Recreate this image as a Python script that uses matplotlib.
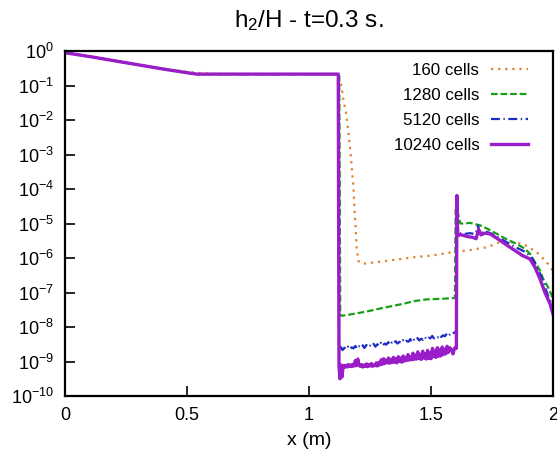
import numpy as np
import matplotlib
matplotlib.use('Agg')
import matplotlib.pyplot as plt

plt.rcParams['font.family'] = ['Liberation Sans', 'DejaVu Sans']
plt.rcParams['mathtext.fontset'] = 'custom'
plt.rcParams['mathtext.rm'] = 'Liberation Sans'
plt.rcParams['mathtext.it'] = 'Liberation Sans:italic'

# values, stored as log10(h2/H)
x_160 = [0, 0.1, 0.2, 0.3, 0.4, 0.5, 0.55, 0.6, 0.8, 1.0, 1.12, 1.134, 1.141,
         1.152, 1.161, 1.168, 1.175, 1.182, 1.186, 1.191, 1.195, 1.202, 1.216,
         1.3, 1.427, 1.5, 1.59, 1.65, 1.728, 1.783, 1.82, 1.878, 1.933, 1.974, 2.0]
ly_160 = [-0.05, -0.16, -0.28, -0.40, -0.52, -0.60, -0.635, -0.66, -0.67, -0.67,
          -0.68, -1.04, -1.42, -1.8, -2.35, -2.78, -3.36, -3.94, -4.53, -5.1,
          -5.69, -6.08, -6.17, -6.1, -5.98, -5.93, -5.83, -5.78, -5.69, -5.54,
          -5.54, -5.59, -5.83, -6.12, -6.37]

x_1280 = [0, 0.1, 0.2, 0.3, 0.4, 0.5, 0.54, 0.6, 0.8, 1.0, 1.124, 1.128, 1.14,
          1.2, 1.25, 1.3, 1.385, 1.43, 1.482, 1.55, 1.598, 1.601, 1.606, 1.62,
          1.64, 1.66, 1.68, 1.70, 1.73, 1.77, 1.8, 1.85, 1.885, 1.906, 1.926,
          1.947, 1.96, 1.98, 1.995, 2.0]
ly_1280 = [-0.05, -0.16, -0.28, -0.40, -0.52, -0.63, -0.67, -0.67, -0.67, -0.67,
           -0.67, -7.67, -7.67, -7.6, -7.53, -7.45, -7.33, -7.25, -7.2, -7.18,
           -7.16, -4.6, -4.56, -5.0, -5.0, -4.98, -5.02, -5.05, -5.15, -5.3,
           -5.42, -5.59, -5.73, -5.88, -6.12, -6.37, -6.61, -6.85, -7.09, -7.33]

x_5120 = [0, 0.1, 0.2, 0.3, 0.4, 0.5, 0.54, 0.6, 0.8, 1.0, 1.121, 1.123,
          1.13, 1.137, 1.145, 1.152, 1.16, 1.167, 1.175, 1.182, 1.19, 1.197,
          1.205, 1.212, 1.22, 1.227, 1.235, 1.242, 1.25, 1.257, 1.265, 1.272,
          1.28, 1.287, 1.295, 1.302, 1.31, 1.317, 1.325, 1.332, 1.34, 1.347,
          1.355, 1.362, 1.37, 1.377, 1.385, 1.392, 1.4, 1.407, 1.415, 1.422,
          1.43, 1.437, 1.445, 1.452, 1.46, 1.467, 1.475, 1.482, 1.49, 1.497,
          1.505, 1.512, 1.52, 1.527, 1.535, 1.542, 1.55, 1.557, 1.565, 1.572,
          1.58, 1.587, 1.595, 1.603,
          1.606, 1.612, 1.64, 1.66, 1.675, 1.685, 1.693, 1.7, 1.72, 1.75, 1.8,
          1.85, 1.88, 1.91, 1.93, 1.95, 1.97, 1.99, 2.0]
ly_5120 = [-0.05, -0.16, -0.28, -0.40, -0.52, -0.63, -0.67, -0.67, -0.67, -0.67,
           -0.67, -8.68, -8.58, -8.67, -8.60, -8.65, -8.57, -8.64, -8.59, -8.62,
           -8.55, -8.63, -8.56, -8.60, -8.53, -8.61, -8.52, -8.58, -8.54, -8.57,
           -8.49, -8.57, -8.50, -8.55, -8.46, -8.54, -8.48, -8.51, -8.44, -8.52,
           -8.45, -8.49, -8.41, -8.48, -8.43, -8.46, -8.38, -8.45, -8.40, -8.43,
           -8.35, -8.44, -8.37, -8.40, -8.32, -8.39, -8.34, -8.37, -8.29, -8.36,
           -8.31, -8.33, -8.26, -8.33, -8.28, -8.30, -8.23, -8.29, -8.24, -8.27,
           -8.19, -8.25, -8.2, -8.22, -8.16, -8.15,
           -4.6, -5.28, -5.3, -5.28, -5.3, -5.26, -5.06, -5.3, -5.22, -5.3,
           -5.5, -5.7, -5.8, -5.96, -6.2, -6.5, -6.9, -7.3, -7.55]

x_10240 = [0, 0.1, 0.2, 0.3, 0.4, 0.5, 0.54, 0.6, 0.8, 1.0, 1.12, 1.123,
           1.127, 1.131, 1.135, 1.14, 1.146, 1.15, 1.157, 1.16, 1.167, 1.17,
           1.176, 1.18, 1.186, 1.19, 1.195, 1.2, 1.205, 1.21, 1.216, 1.22,
           1.227, 1.23, 1.236, 1.24, 1.247, 1.25, 1.256, 1.26, 1.267, 1.27,
           1.276, 1.28, 1.286, 1.29, 1.296, 1.3, 1.306, 1.31, 1.316, 1.32,
           1.326, 1.33, 1.336, 1.34, 1.346, 1.35, 1.356, 1.36, 1.366, 1.37,
           1.376, 1.38, 1.386, 1.39, 1.396, 1.4, 1.406, 1.41, 1.416, 1.42,
           1.426, 1.43, 1.436, 1.44, 1.446, 1.45, 1.456, 1.46, 1.466, 1.47,
           1.476, 1.48, 1.486, 1.49, 1.496, 1.5, 1.506, 1.51, 1.516, 1.52,
           1.526, 1.53, 1.536, 1.54, 1.546, 1.55, 1.556, 1.56, 1.566, 1.57,
           1.576, 1.58, 1.586, 1.59, 1.596, 1.6, 1.604, 1.606, 1.609, 1.612,
           1.62, 1.65, 1.67, 1.685, 1.695, 1.705, 1.72, 1.742, 1.783, 1.824,
           1.865, 1.872, 1.906, 1.926, 1.947, 1.967, 1.988, 2.0]
ly_10240 = [-0.05, -0.16, -0.28, -0.40, -0.52, -0.63, -0.67, -0.67, -0.67,
            -0.67, -0.67, -9.15, -9.50, -9.10, -9.45, -9.12, -9.17, -9.11,
            -9.16, -9.09, -9.14, -9.10, -9.15, -9.08, -9.13, -8.97, -9.12,
            -8.93, -9.10, -9.14, -9.09, -9.16, -9.10, -9.14, -9.07, -9.15,
            -9.09, -9.13, -9.06, -9.14, -9.10, -9.12, -9.04, -9.13, -9.03,
            -9.10, -8.95, -9.08, -8.92, -9.06, -8.96, -9.04, -8.90, -9.05,
            -8.94, -9.03, -8.88, -9.02, -8.92, -9.04, -8.86, -9.00, -8.90,
            -9.02, -8.84, -8.99, -8.88, -8.97, -8.80, -8.96, -8.86, -8.95,
            -8.76, -8.94, -8.82, -8.93, -8.72, -8.92, -8.80, -8.94, -8.70,
            -8.90, -8.78, -8.93, -8.68, -8.91, -8.74, -8.92, -8.62, -8.86,
            -8.70, -8.88, -8.60, -8.85, -8.66, -8.84, -8.58, -8.80, -8.64,
            -8.78, -8.56, -8.74, -8.60, -8.62, -8.70, -8.78, -8.62, -8.60,
            -8.62, -4.19, -5.32, -5.35, -5.32, -5.38, -5.40, -5.44, -5.17,
            -5.33, -5.28, -5.3, -5.49, -5.69, -5.88, -5.92, -6.03, -6.27,
            -6.61, -7.0, -7.33, -7.63]

labels = ['160 cells', '1280 cells', '5120 cells', '10240 cells']
x_ticks = [0, 0.5, 1, 1.5, 2]
x_ticklabels = ['0', '0.5', '1', '1.5', '2']

fig = plt.figure(figsize=(5.57, 4.54), dpi=100)
ax = fig.add_axes([65/557., 1-396/454., 488/557., 345/454.])

ax.plot(x_160, 10.0**np.array(ly_160), color='#e0822a', lw=1.6,
        ls=(0, (1, 2.2)), label=labels[0])
ax.plot(x_1280, 10.0**np.array(ly_1280), color='#17a017', lw=1.6,
        ls=(0, (3, 1.3)), label=labels[1])
ax.plot(x_5120, 10.0**np.array(ly_5120), color='#1c2cc4', lw=1.6,
        ls=(0, (4, 1.6, 0.6, 1.6)), label=labels[2])
ax.plot(x_10240, 10.0**np.array(ly_10240), color='#9a1ec8', lw=2.4,
        label=labels[3])

ax.set_yscale('log')
ax.set_xlim(0, 2)
ax.set_ylim(1e-10, 1)
ax.set_yticks([10.0**(-k) for k in range(11)])
ax.set_yticklabels(['10$^{%d}$' % (-k) for k in range(11)])
ax.minorticks_off()
ax.set_xticks(x_ticks)
ax.set_xticklabels(x_ticklabels)
ax.tick_params(direction='in', length=7, width=1.2, labelsize=13, pad=8)

for s in ax.spines.values():
    s.set_linewidth(1.6)

ax.set_xlabel('x (m)', fontsize=14, labelpad=6)
ax.set_title('h$_2$/H - t=0.3 s.', fontsize=17.5, pad=17)

ax.legend(loc='upper right', bbox_to_anchor=(0.967, 0.99), frameon=False,
          markerfirst=False, fontsize=12.2, handlelength=2.2,
          labelspacing=0.6, borderpad=0, handletextpad=0.7)

plt.savefig('out.png', dpi=100)
